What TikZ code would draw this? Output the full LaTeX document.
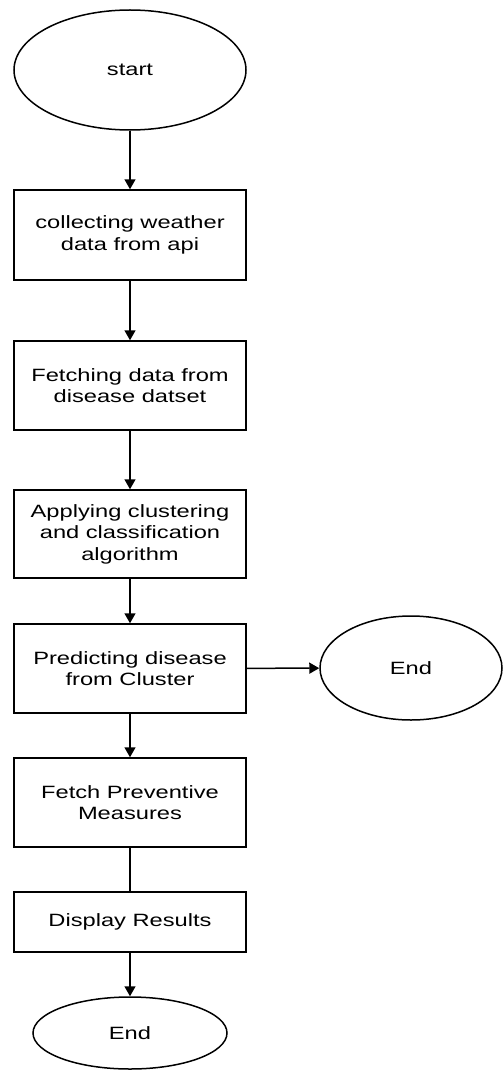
\documentclass[tikz,border=0pt]{standalone}
\usepackage{fontspec}
\setmainfont{Liberation Sans}[FakeStretch=1.33]
\usetikzlibrary{shapes.geometric,arrows.meta}
\begin{document}
\begin{tikzpicture}[x=1pt,y=-1pt,
  box/.style={draw,line width=1.5pt,minimum width=232pt,align=center,inner sep=0pt,font=\fontsize{17.8}{21.5}\selectfont},
  oval/.style={draw,ellipse,line width=1.5pt,inner sep=0pt,font=\fontsize{17.8}{21.5}\selectfont},
  arr/.style={line width=1.5pt,-{Triangle[width=11pt,length=10pt]}},
  ln/.style={line width=1.5pt}]
\useasboundingbox (0,0) rectangle (503,1070);
\node[oval,minimum width=232pt,minimum height=120pt] (start) at (130,70) {start};
\node[box,minimum height=90pt] (b1) at (130,235) {collecting weather\\data from api};
\node[box,minimum height=89pt] (b2) at (130,385.5) {Fetching data from\\disease datset};
\node[box,minimum height=88pt] (b3) at (130,534) {Applying clustering\\and classification\\algorithm};
\node[box,minimum height=89pt] (b4) at (130,668.5) {Predicting disease\\from Cluster};
\node[oval,minimum width=182pt,minimum height=104pt] (end1) at (411,668) {End};
\node[box,minimum height=89pt] (b5) at (130,802.5) {Fetch Preventive\\Measures};
\node[box,minimum height=60pt] (b6) at (130,922) {Display Results};
\node[oval,minimum width=194pt,minimum height=72pt] (end2) at (130,1033) {End};
\draw[arr] (start) -- (b1);
\draw[arr] (b1) -- (b2);
\draw[arr] (b2) -- (b3);
\draw[arr] (b3) -- (b4);
\draw[arr] (b4) -- (end1);
\draw[arr] (b4) -- (b5);
\draw[ln] (b5) -- (b6);
\draw[arr] (b6) -- (end2);
\end{tikzpicture}
\end{document}
